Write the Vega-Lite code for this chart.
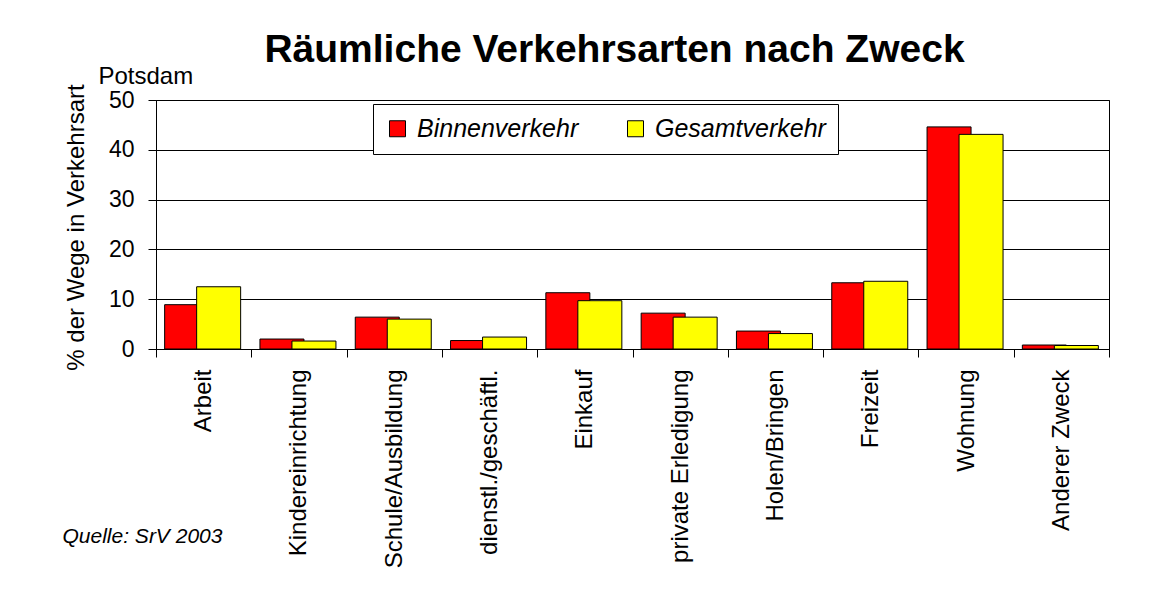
{
  "$schema": "https://vega.github.io/schema/vega-lite/v6.json",
  "autosize": {"type": "none"},
  "width": 953,
  "height": 249,
  "padding": {"left": 156, "top": 100, "right": 63, "bottom": 241},
  "background": "white",
  "title": {
    "text": "Räumliche Verkehrsarten nach Zweck",
    "font": "Liberation Sans",
    "fontSize": 39,
    "fontWeight": "bold",
    "color": "black",
    "anchor": "middle",
    "dx": -18,
    "dy": 10,
    "frame": "group"
  },
  "config": {
    "font": "Liberation Sans",
    "view": {"stroke": "black", "strokeWidth": 1},
    "axis": {
      "labelFont": "Liberation Sans",
      "titleFont": "Liberation Sans",
      "labelColor": "black",
      "titleColor": "black",
      "domainColor": "black",
      "tickColor": "black",
      "labelFontSize": 23,
      "titleFontSize": 24,
      "titleFontWeight": "normal",
      "labelLimit": 0
    }
  },
  "resolve": {"axis": {"y": "independent"}},
  "data": {
    "values": [
      {"Zweck": "Arbeit", "Verkehr": "Binnenverkehr", "Prozent": 8.9},
      {"Zweck": "Arbeit", "Verkehr": "Gesamtverkehr", "Prozent": 12.5},
      {"Zweck": "Kindereinrichtung", "Verkehr": "Binnenverkehr", "Prozent": 2.0},
      {"Zweck": "Kindereinrichtung", "Verkehr": "Gesamtverkehr", "Prozent": 1.6},
      {"Zweck": "Schule/Ausbildung", "Verkehr": "Binnenverkehr", "Prozent": 6.4},
      {"Zweck": "Schule/Ausbildung", "Verkehr": "Gesamtverkehr", "Prozent": 6.0},
      {"Zweck": "dienstl./geschäftl.", "Verkehr": "Binnenverkehr", "Prozent": 1.7},
      {"Zweck": "dienstl./geschäftl.", "Verkehr": "Gesamtverkehr", "Prozent": 2.4},
      {"Zweck": "Einkauf", "Verkehr": "Binnenverkehr", "Prozent": 11.3},
      {"Zweck": "Einkauf", "Verkehr": "Gesamtverkehr", "Prozent": 9.7},
      {"Zweck": "private Erledigung", "Verkehr": "Binnenverkehr", "Prozent": 7.2},
      {"Zweck": "private Erledigung", "Verkehr": "Gesamtverkehr", "Prozent": 6.4},
      {"Zweck": "Holen/Bringen", "Verkehr": "Binnenverkehr", "Prozent": 3.6},
      {"Zweck": "Holen/Bringen", "Verkehr": "Gesamtverkehr", "Prozent": 3.1},
      {"Zweck": "Freizeit", "Verkehr": "Binnenverkehr", "Prozent": 13.3},
      {"Zweck": "Freizeit", "Verkehr": "Gesamtverkehr", "Prozent": 13.6},
      {"Zweck": "Wohnung", "Verkehr": "Binnenverkehr", "Prozent": 44.6},
      {"Zweck": "Wohnung", "Verkehr": "Gesamtverkehr", "Prozent": 43.1},
      {"Zweck": "Anderer Zweck", "Verkehr": "Binnenverkehr", "Prozent": 0.8},
      {"Zweck": "Anderer Zweck", "Verkehr": "Gesamtverkehr", "Prozent": 0.7}
    ]
  },
  "encoding": {
    "x": {
      "field": "Zweck",
      "type": "nominal",
      "sort": null,
      "scale": {"paddingInner": 0, "paddingOuter": 0},
      "axis": {
        "title": "Quelle: SrV 2003",
        "titleFontStyle": "italic",
        "titleFontSize": 21,
        "titleAnchor": "start",
        "titleAlign": "left",
        "titleBaseline": "alphabetic",
        "titleX": -94,
        "titleY": 193,
        "labelAngle": -90,
        "labelAlign": "right",
        "labelBaseline": "middle",
        "labelFontSize": 24,
        "labelPadding": 12,
        "labelLimit": 0,
        "tickSize": 8,
        "tickBand": "extent",
        "domain": true
      }
    },
    "color": {
      "field": "Verkehr",
      "type": "nominal",
      "scale": {"domain": ["Binnenverkehr", "Gesamtverkehr"], "range": ["#FF0000", "#FFFF00"]},
      "legend": {
        "title": null,
        "orient": "none",
        "legendX": 217,
        "legendY": 4,
        "direction": "horizontal",
        "symbolType": "square",
        "symbolSize": 256,
        "symbolStrokeColor": "black",
        "symbolStrokeWidth": 1,
        "symbolOpacity": 1,
        "labelFont": "Liberation Sans",
        "labelFontSize": 25,
        "labelFontStyle": "italic",
        "labelColor": "black",
        "labelLimit": 0,
        "labelOffset": 7,
        "columnPadding": 44,
        "padding": 12,
        "strokeColor": "black",
        "fillColor": "white"
      }
    }
  },
  "layer": [
    {
      "transform": [{"filter": "datum.Verkehr === 'Binnenverkehr'"}],
      "mark": {"type": "bar", "width": 44, "xOffset": -17, "stroke": "black", "strokeWidth": 1, "opacity": 1},
      "encoding": {
        "y": {
          "field": "Prozent",
          "type": "quantitative",
          "scale": {"domain": [0, 50], "nice": false},
          "axis": {
            "values": [0, 10, 20, 30, 40, 50],
            "title": "% der Wege in Verkehrsart",
            "titleAngle": -90,
            "titleAlign": "center",
            "titleBaseline": "alphabetic",
            "titleX": -73,
            "titleY": 127,
            "tickSize": 8,
            "labelPadding": 14,
            "grid": true,
            "gridColor": "black",
            "gridOpacity": 1,
            "gridWidth": 1
          }
        }
      }
    },
    {
      "transform": [{"filter": "datum.Verkehr === 'Gesamtverkehr'"}],
      "mark": {"type": "bar", "width": 44, "xOffset": 15, "stroke": "black", "strokeWidth": 1, "opacity": 1},
      "encoding": {
        "y": {
          "field": "Prozent",
          "type": "quantitative",
          "axis": {
            "orient": "right",
            "title": "Potsdam",
            "titleFontSize": 24,
            "titleAngle": 0,
            "titleAlign": "left",
            "titleBaseline": "alphabetic",
            "titleX": -1011,
            "titleY": -17,
            "labels": false,
            "ticks": false,
            "domain": false,
            "grid": false
          }
        }
      }
    }
  ]
}
